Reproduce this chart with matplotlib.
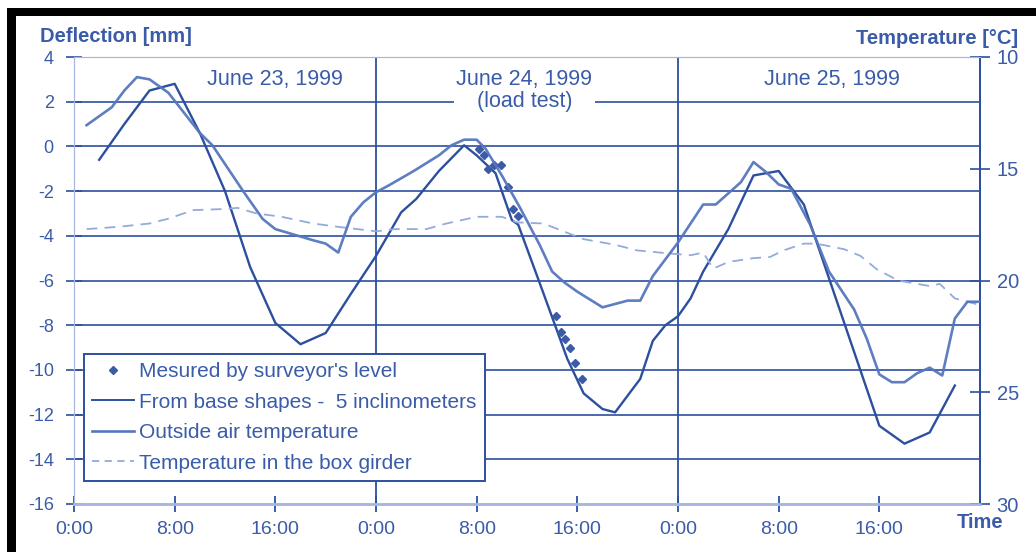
import matplotlib
matplotlib.use("Agg")
import matplotlib.pyplot as plt
from matplotlib import patches, lines

plt.rcParams['font.family'] = ['Liberation Sans', 'DejaVu Sans']
plt.rcParams['axes.unicode_minus'] = False

# deflection from base shapes (5 inclinometers), hours from 0:00 June 23 / mm
defl_hours = [2, 4, 6, 8, 10, 12, 14, 16, 18, 20, 22, 24, 26, 27.2, 29, 31, 32, 33.5,
              34.8, 35.3, 37, 39.2, 40.5, 42, 43, 45, 46, 47, 48, 49, 50, 52, 54, 56,
              58, 64, 66, 68, 70]
defl_mm = [-0.6, 1.0, 2.5, 2.8, 0.6, -2.0, -5.4, -7.9, -8.85, -8.35, -6.6, -4.9, -2.95,
           -2.35, -1.1, 0.05, -0.4, -1.2, -3.3, -3.5, -6.1, -9.5, -11.05, -11.75, -11.9,
           -10.4, -8.7, -8.0, -7.6, -6.8, -5.6, -3.7, -1.3, -1.1, -2.6, -12.5, -13.3,
           -12.8, -10.7]

# surveyor's level
level_hours = [32.2, 32.6, 32.9, 33.4, 33.9, 34.5, 34.9, 35.3, 38.3, 38.7, 39.0, 39.4,
               39.8, 40.4]
level_mm = [-0.1, -0.4, -1.0, -0.85, -0.85, -1.8, -2.8, -3.1, -7.6, -8.3, -8.6, -9.0,
            -9.7, -10.4]

# outside air temperature [deg C]
air_hours = [1, 3, 4, 5, 6, 7.5, 10, 11, 13.5, 15, 16, 19, 20, 21, 22, 23, 24, 25, 27,
             29, 30, 31, 32, 32.7, 34, 35.5, 37, 38, 39, 40, 42, 44, 45, 46, 48, 50, 51,
             52, 53, 54, 55, 56, 57, 58.5, 60, 62, 63, 64, 65, 66, 67, 68, 69, 70, 71, 72]
air_temp = [13.05, 12.25, 11.5, 10.9, 11.0, 11.6, 13.4, 13.95, 16.05, 17.25, 17.7, 18.2,
            18.35, 18.75, 17.15, 16.5, 16.05, 15.75, 15.1, 14.4, 13.95, 13.7, 13.7, 14.1,
            15.3, 16.8, 18.4, 19.6, 20.1, 20.5, 21.2, 20.9, 20.9, 19.8, 18.3, 16.6, 16.6,
            16.1, 15.6, 14.7, 15.15, 15.7, 15.9, 17.5, 19.6, 21.3, 22.6, 24.2, 24.55,
            24.55, 24.15, 23.9, 24.25, 21.7, 20.95, 20.95]

# temperature in the box girder [deg C]
box_hours = [1, 3.5, 6, 7.4, 9.5, 12, 13, 14.5, 16.5, 19, 21, 22.5, 24, 25.5, 28, 29.6,
             32, 34, 35.2, 37.3, 40.5, 43, 44.7, 47.5, 49, 50, 50.8, 52, 54, 55.3, 56.4,
             58, 59, 61.2, 62.5, 63.8, 65.5, 68, 68.8, 70, 71, 72]
box_temp = [17.7, 17.6, 17.45, 17.25, 16.85, 16.8, 16.75, 17.0, 17.15, 17.45, 17.6, 17.7,
            17.8, 17.7, 17.7, 17.45, 17.15, 17.15, 17.4, 17.45, 18.15, 18.4, 18.65, 18.8,
            18.87, 18.75, 19.47, 19.17, 19.0, 18.95, 18.65, 18.35, 18.35, 18.6, 18.9, 19.5,
            20.0, 20.25, 20.15, 20.8, 20.95, 21.1]

tick_hours = [0, 8, 16, 24, 32, 40, 48, 56, 64]
tick_labels = ["0:00", "8:00", "16:00", "0:00", "8:00", "16:00", "0:00", "8:00", "16:00"]
day_labels = ["June 23, 1999", "June 24, 1999\n(load test)", "June 25, 1999"]

DARK = "#2c4f9e"
MID = "#5677bd"
LIGHT = "#93abdb"
TEXT = "#3a5ca8"
SPINE = "#a4b7df"

fig = plt.figure(figsize=(10.36, 5.52), dpi=100)
ax = fig.add_axes([74 / 1036, 1 - 504 / 552, 906 / 1036, 447 / 552])
ax2 = ax.twinx()

ax.set_xlim(0, 72)
ax.set_ylim(-16, 4)
ax2.set_ylim(30, 10)

# grid: every 2 mm, plus day boundaries
for y in range(-14, 4, 2):
    ax.axhline(y, color=DARK, lw=1.2, zorder=1)
for d in (24, 48):
    ax.axvline(d, color=DARK, lw=1.3, zorder=1)

ax.plot(defl_hours, defl_mm, color=DARK, lw=1.7, zorder=3)
ax.plot(level_hours, level_mm, ls="none", marker="D", ms=4, color="#3b5ba6", zorder=4)
ax2.plot(air_hours, air_temp, color=MID, lw=1.9, alpha=0.95, zorder=3)
ax2.plot(box_hours, box_temp, color=LIGHT, lw=1.3, dashes=(6, 4), zorder=2)

ax.set_xticks(tick_hours)
ax.set_xticklabels(tick_labels)
ax.set_yticks(range(-16, 5, 2))
ax2.set_yticks([10, 15, 20, 25, 30])

ax.tick_params(axis="x", direction="inout", length=12, width=1.3, color=DARK,
               labelcolor=TEXT, labelsize=14, pad=6)
ax.tick_params(axis="y", direction="inout", length=11, width=1.2, color=DARK,
               labelcolor=TEXT, labelsize=13, pad=9)
ax2.tick_params(axis="y", direction="inout", length=14, width=1.2, color=DARK,
                labelcolor=TEXT, labelsize=14.5, pad=5)

for a in (ax, ax2):
    a.spines["left"].set_color(SPINE)
    a.spines["top"].set_color(SPINE)
    a.spines["bottom"].set_color(SPINE)
    a.spines["bottom"].set_linewidth(1.8)
    a.spines["right"].set_color(DARK)
    a.spines["right"].set_linewidth(1.3)

# day labels
ax.text(16, 3.0, day_labels[0], ha="center", va="center", fontsize=15.5, color=TEXT)
ax.text(35.8, 2.5, day_labels[1], ha="center", va="center", fontsize=15.5, color=TEXT,
        linespacing=1.05, bbox=dict(fc="white", ec="none", pad=2), zorder=5)
ax.text(60.2, 3.0, day_labels[2], ha="center", va="center", fontsize=15.5, color=TEXT)

fig.text(40 / 1036, 1 - 37 / 552, "Deflection [mm]", ha="left", va="center",
         fontsize=14.5, fontweight="bold", color=TEXT)
fig.text(1018 / 1036, 1 - 39 / 552, "Temperature [\u00b0C]", ha="right", va="center",
         fontsize=14.5, fontweight="bold", color=TEXT)
fig.text(980 / 1036, 1 - 522 / 552, "Time", ha="center", va="center",
         fontsize=14.5, fontweight="bold", color=TEXT)

handles = [
    lines.Line2D([], [], ls="none", marker="D", ms=4, color="#3b5ba6"),
    lines.Line2D([], [], color=DARK, lw=1.4),
    lines.Line2D([], [], color=MID, lw=1.9),
    lines.Line2D([], [], color=LIGHT, lw=1.3, dashes=(4, 3)),
]
names = ["Mesured by surveyor's level", "From base shapes -  5 inclinometers",
         "Outside air temperature", "Temperature in the box girder"]
leg = ax2.legend(handles, names, loc="upper left",
                 bbox_to_anchor=(84 / 1036, 1 - 354 / 552), bbox_transform=fig.transFigure,
                 fontsize=15, frameon=True, fancybox=False, framealpha=1,
                 edgecolor=DARK, handlelength=2.0, handletextpad=0.25,
                 labelspacing=0.55, borderpad=0.4, borderaxespad=0)
leg.get_frame().set_linewidth(1.4)
for t in leg.get_texts():
    t.set_color(TEXT)

# black frame at the top and left edge of the scan
fig.add_artist(patches.Rectangle((7 / 1036, 1 - 16 / 552), 1, 8 / 552,
                                 transform=fig.transFigure, color="black", lw=0))
fig.add_artist(patches.Rectangle((7 / 1036, 0), 9 / 1036, 1 - 8 / 552,
                                 transform=fig.transFigure, color="black", lw=0))

fig.savefig("out.png", dpi=100)
